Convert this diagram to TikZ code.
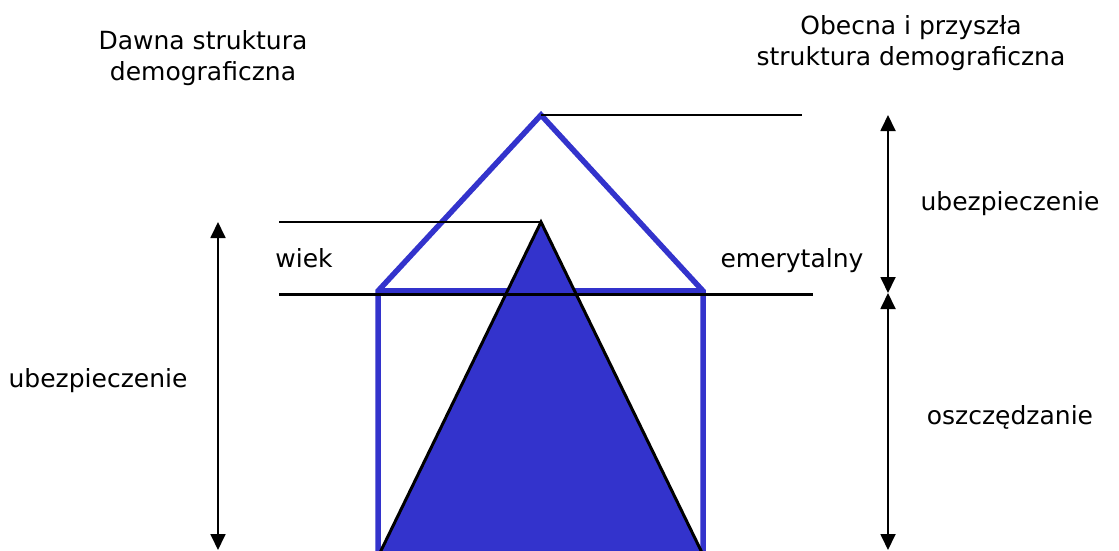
\documentclass[tikz,border=0pt]{standalone}
\usepackage{fontspec}
\setmainfont{DejaVu Sans}
\usetikzlibrary{arrows.meta}
\definecolor{houseblue}{HTML}{3333CC}

\begin{document}
\begin{tikzpicture}[x=1pt,y=-1pt,
  txt/.style={font=\fontsize{25}{31}\selectfont, inner sep=0pt, align=center},
  wall/.style={draw=houseblue, line width=5.5pt, line join=miter},
  span/.style={line width=1.8pt, {Triangle[length=16pt,width=15pt]}-{Triangle[length=16pt,width=15pt]}},
  thick level/.style={line width=3pt},
  thin level/.style={line width=1.8pt}]
  \useasboundingbox (0,0) rectangle (1119,551);
  \clip (0,0) rectangle (1119,551);

  % titles
  \node[txt] (old) at (203,58) {Dawna struktura\\demograficzna};
  \node[txt] (new) at (911,43) {Obecna i przyszła\\struktura demograficzna};

  % house (new structure)
  \coordinate (roof) at (541,115);
  \coordinate (eaveL) at (378,291);
  \coordinate (eaveR) at (703,291);
  \coordinate (footL) at (378,570);
  \coordinate (footR) at (703,570);
  \draw[wall] (footL) -- (eaveL) -- (roof) -- (eaveR) -- (footR);
  \draw[wall] (eaveL) -- (eaveR);

  % pyramid (old structure)
  \coordinate (peak) at (541,222);
  \coordinate (baseL) at (374,565);
  \coordinate (baseR) at (708,565);
  \filldraw[fill=houseblue, draw=black, line width=3pt, line join=miter]
    (peak) -- (baseL) -- (baseR) -- cycle;

  % levels
  \coordinate (oldtop) at (279,222);
  \coordinate (newtop) at (802,115);
  \coordinate (ageL) at (279,294);
  \coordinate (ageR) at (813,294);
  \draw[thin level] (oldtop) -- (peak);
  \draw[thin level] (roof) -- (newtop);
  \draw[thick level] (ageL) -- (ageR);

  % spans
  \coordinate (lefttop) at (218,222);
  \coordinate (leftbot) at (218,550);
  \coordinate (righttop) at (888,115);
  \coordinate (rightmid) at (888,293);
  \coordinate (rightbot) at (888,550);
  \draw[span] (lefttop) -- (leftbot);
  \draw[span] (righttop) -- (rightmid);
  \draw[span] (rightmid) -- (rightbot);

  % labels
  \node[txt] (age1) at (304,258) {wiek};
  \node[txt] (age2) at (792,261) {emerytalny};
  \node[txt] (ins1) at (98,381) {ubezpieczenie};
  \node[txt] (ins2) at (1010,204) {ubezpieczenie};
  \node[txt] (save) at (1010,417) {oszczędzanie};
\end{tikzpicture}
\end{document}
